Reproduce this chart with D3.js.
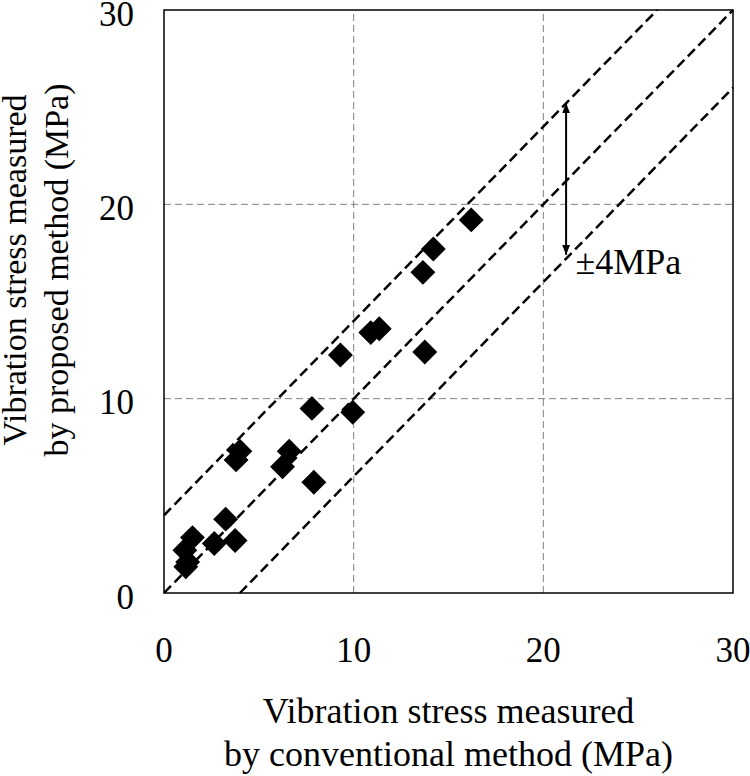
<!DOCTYPE html>
<html><head><meta charset="utf-8"><script src="https://cdn.jsdelivr.net/npm/d3@7"></script></head>
<body style="margin:0">
<div id="root"></div>
<script>
// ---- data ----
const conventional = [16.2, 14.2, 13.65, 11.35, 10.9, 9.3, 13.75, 7.8, 9.95, 7.9, 4.0, 3.8, 6.6, 6.25, 3.25, 3.75, 2.65, 1.5, 1.1, 1.25, 1.15];
const proposed     = [19.2, 17.7, 16.5, 13.6, 13.4, 12.25, 12.4, 9.5, 9.3, 5.7, 7.3, 6.85, 7.3, 6.5, 3.8, 2.7, 2.55, 2.85, 2.2, 1.6, 1.35];
const xTicks = [0, 10, 20, 30];
const yTicks = [0, 10, 20, 30];
const bandOffsets = [4, 0, -4];
const arrowX = 21.2, arrowTop = 25.2, arrowBottom = 17.4;
const bandLabel = "±4MPa";
const xTitle = ["Vibration stress measured", "by conventional method (MPa)"];
const yTitle = ["Vibration stress measured", "by proposed method (MPa)"];

// ---- layout ----
const svg = d3.select("#root").append("svg").attr("width", 750).attr("height", 776);
const x = d3.scaleLinear().domain([0, 30]).range([164, 733]);
const y = d3.scaleLinear().domain([0, 30]).range([593, 10]);

function label(sel) {
  return sel.style("font-family", '"Liberation Serif"');
}

// grid
const grid = svg.append("g");
grid.selectAll("line.gx").data(xTicks.filter(t => t > 0 && t < 30)).join("line")
  .attr("x1", d => x(d)).attr("x2", d => x(d)).attr("y1", y(0)).attr("y2", y(30))
  .attr("stroke", "#808080").attr("stroke-width", 1).attr("stroke-dasharray", "7,4");
grid.selectAll("line.gy").data(yTicks.filter(t => t > 0 && t < 30)).join("line")
  .attr("x1", x(0)).attr("x2", x(30)).attr("y1", d => y(d)).attr("y2", d => y(d))
  .attr("stroke", "#808080").attr("stroke-width", 1).attr("stroke-dasharray", "7,4");

// band lines
svg.append("g").selectAll("line").data(bandOffsets).join("line")
  .attr("x1", o => x(Math.max(0, -o))).attr("y1", o => y(Math.max(0, -o) + o))
  .attr("x2", o => x(Math.min(30, 30 - o))).attr("y2", o => y(Math.min(30, 30 - o) + o))
  .attr("stroke", "#000").attr("stroke-width", 2.5).attr("stroke-dasharray", "10,5");

// points
const pts = conventional.map((c, i) => ({c, p: proposed[i]}));
svg.append("g").selectAll("path").data(pts).join("path")
  .attr("d", d3.symbol(d3.symbolSquare).size(310))
  .attr("transform", d => `translate(${x(d.c)},${y(d.p)}) rotate(45)`)
  .attr("fill", "#000");

// frame
svg.append("rect").attr("x", x(0)).attr("y", y(30))
  .attr("width", x(30) - x(0)).attr("height", y(0) - y(30))
  .attr("fill", "none").attr("stroke", "#000").attr("stroke-width", 1.5);

// arrow
const defs = svg.append("defs");
defs.append("marker").attr("id", "ah").attr("viewBox", "0 0 10 10")
  .attr("refX", 10).attr("refY", 5).attr("markerWidth", 10).attr("markerHeight", 10)
  .attr("orient", "auto-start-reverse").attr("markerUnits", "userSpaceOnUse")
  .append("path").attr("d", "M0,1 L10,5 L0,9 z").attr("fill", "#000");
svg.append("line")
  .attr("x1", x(arrowX)).attr("x2", x(arrowX)).attr("y1", y(arrowTop)).attr("y2", y(arrowBottom))
  .attr("stroke", "#000").attr("stroke-width", 2)
  .attr("marker-start", "url(#ah)").attr("marker-end", "url(#ah)");
svg.append("text").attr("x", x(21.7)).attr("y", y(16.4))
  .attr("font-size", 36).call(label).text(bandLabel);

// tick labels
svg.append("g").selectAll("text").data(xTicks).join("text")
  .attr("x", d => x(d)).attr("y", 662).attr("text-anchor", "middle")
  .attr("font-size", 35).call(label).text(d => d);
svg.append("g").selectAll("text").data(yTicks).join("text")
  .attr("x", 134).attr("y", d => y(d) + 15.5).attr("text-anchor", "end")
  .attr("font-size", 35).call(label).text(d => d);

// axis titles
svg.append("g").selectAll("text").data(xTitle).join("text")
  .attr("x", (x(0) + x(30)) / 2).attr("y", (d, i) => 723 + i * 43)
  .attr("text-anchor", "middle").attr("font-size", 36).call(label).text(d => d);
svg.append("g").selectAll("text").data(yTitle).join("text")
  .attr("transform", (d, i) => `translate(${26 + i * 42},270) rotate(-90)`)
  .attr("text-anchor", "middle").attr("font-size", 34).call(label).text(d => d);
</script>
</body>
</html>
